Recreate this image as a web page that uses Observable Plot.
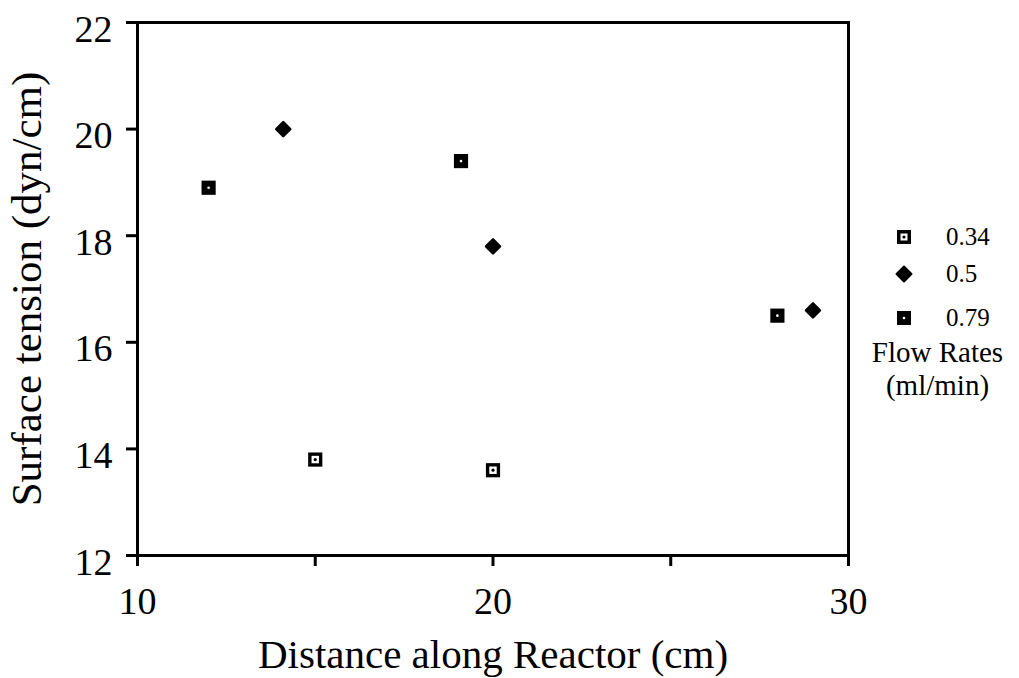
<!DOCTYPE html>
<html>
<head>
<meta charset="utf-8">
<script src="https://cdn.jsdelivr.net/npm/d3@7"></script>
<script src="https://cdn.jsdelivr.net/npm/@observablehq/plot@0.6"></script>
<style>
  html, body { margin: 0; padding: 0; background: #fff; }
  #wrap { position: relative; width: 1019px; height: 678px; font-family: "Liberation Serif", "DejaVu Serif", serif; }
  #legend { position: absolute; left: 860px; top: 218px; width: 159px; color: #000; }
  .row { position: absolute; left: 0; display: flex; align-items: center; height: 38px; font-size: 25px; }
  .row svg { width: 20px; height: 20px; margin-left: 34px; margin-right: 32px; }
  .ltitle { position: absolute; left: 0; width: 155px; text-align: center; font-size: 29px; line-height: 33px; top: 118px; }
</style>
</head>
<body>
<div id="wrap"></div>
<script>
// ---- data ----
const seriesNames = ["0.34", "0.5", "0.79"];
const x034 = [15, 20];
const y034 = [13.8, 13.6];
const x05 = [14.1, 20, 29];
const y05 = [20.0, 17.8, 16.6];
const x079 = [12, 19.1, 28];
const y079 = [18.9, 19.4, 16.5];
const xTicks = [10, 15, 20, 25, 30];
const xTickLabels = ["10", "", "20", "", "30"];
const yTicks = [12, 14, 16, 18, 20, 22];
const xTitle = "Distance along Reactor (cm)";
const yTitle = "Surface tension (dyn/cm)";
const legendTitle = ["Flow Rates", "(ml/min)"];

const toRows = (xs, ys) => xs.map((x, i) => ({x, y: ys[i]}));
const d034 = toRows(x034, y034);
const d05 = toRows(x05, y05);
const d079 = toRows(x079, y079);

const chart = Plot.plot({
  width: 1019,
  height: 678,
  marginLeft: 137,
  marginRight: 171,
  marginTop: 22,
  marginBottom: 123,
  style: {fontFamily: "Liberation Serif, DejaVu Serif, serif", fontSize: "38px", color: "#000", background: "#fff", overflow: "visible"},
  x: {domain: [10, 30]},
  y: {domain: [12, 22]},
  marks: [
    Plot.frame({stroke: "#000", strokeWidth: 3}),
    Plot.axisX({ticks: xTicks, tickSize: 11, tickPadding: 21, strokeWidth: 3, fontSize: 38,
      tickFormat: (d) => xTickLabels[xTicks.indexOf(d)],
      label: null}),
    Plot.axisX({ticks: [], label: xTitle, labelAnchor: "center", labelArrow: "none",
      labelOffset: 112, fontSize: 41}),
    // y tick marks (no labels)
    Plot.axisY({ticks: yTicks, tickSize: 11, strokeWidth: 3, tickFormat: () => "", label: null}),
    // y tick labels, nudged down slightly as in the reference
    Plot.axisY({ticks: yTicks, tickSize: 0, tickPadding: 25, fontSize: 38, dy: 7, label: null}),
    Plot.axisY({ticks: [], label: yTitle, labelAnchor: "center", labelArrow: "none",
      labelOffset: 127, fontSize: 43}),
    // 0.34 : open square with centre dot
    Plot.dot(d034, {x: "x", y: "y", symbol: "square", r: 8, fill: "#000"}),
    Plot.dot(d034, {x: "x", y: "y", symbol: "square", r: 4.2, fill: "#fff"}),
    Plot.dot(d034, {x: "x", y: "y", r: 1.6, fill: "#000"}),
    // 0.5 : filled diamond
    Plot.dot(d05, {x: "x", y: "y", symbol: "diamond2", r: 6.3, fill: "#000", stroke: "#000", strokeWidth: 2.5, strokeLinejoin: "round"}),
    // 0.79 : filled square with tiny white dot
    Plot.dot(d079, {x: "x", y: "y", symbol: "square", r: 8, fill: "#000"}),
    Plot.dot(d079, {x: "x", y: "y", r: 1.3, fill: "#fff"})
  ]
});
document.getElementById("wrap").appendChild(chart);

// ---- legend (HTML, placed over the right margin) ----
const icons = {
  "0.34": '<rect x="3" y="3" width="14" height="14" fill="#000"/><rect x="6.5" y="6.5" width="7" height="7" fill="#fff"/><circle cx="10" cy="10" r="1.6" fill="#000"/>',
  "0.5": '<path d="M10 2.5 L17.5 10 L10 17.5 L2.5 10 Z" fill="#000" stroke="#000" stroke-width="2" stroke-linejoin="round"/>',
  "0.79": '<rect x="3" y="3" width="14" height="14" fill="#000"/><circle cx="10" cy="10" r="1.3" fill="#fff"/>'
};
const rowTops = [0, 37, 81];
const legend = document.createElement("div");
legend.id = "legend";
legend.innerHTML = seriesNames.map((n, i) =>
  `<div class="row" style="top:${rowTops[i]}px"><svg viewBox="0 0 20 20">${icons[n]}</svg><span>${n}</span></div>`).join("") +
  `<div class="ltitle">${legendTitle[0]}<br>${legendTitle[1]}</div>`;
document.getElementById("wrap").appendChild(legend);
</script>
</body>
</html>
